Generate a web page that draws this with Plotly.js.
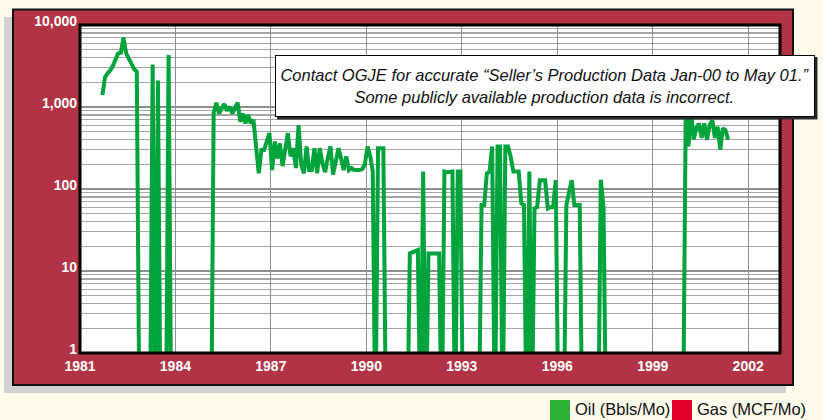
<!DOCTYPE html>
<html><head><meta charset="utf-8">
<script src="https://cdn.plot.ly/plotly-3.0.1.min.js"></script>
<style>html,body{margin:0;padding:0;background:#fefbec;overflow:hidden}#chart{width:823px;height:420px}</style>
</head><body><div id="chart"></div>
<script>
// ---- data (monthly oil production, Bbls/Mo; 0 = no production) ----
const months = [
 '1981-09','1981-10','1981-11','1981-12','1982-01','1982-02','1982-03','1982-04','1982-05','1982-06','1982-07','1982-08','1982-09','1982-10','1982-11',
 '1983-03','1983-04','1983-05','1983-06','1983-07','1983-09','1983-10','1983-11',
 '1985-02','1985-03','1985-04','1985-05','1985-06','1985-07','1985-08','1985-09','1985-10','1985-11','1985-12',
 '1986-01','1986-02','1986-03','1986-04','1986-05','1986-06','1986-07','1986-08','1986-09','1986-10','1986-11','1986-12',
 '1987-01','1987-02','1987-03','1987-04','1987-05','1987-06','1987-07','1987-08','1987-09','1987-10','1987-11','1987-12',
 '1988-01','1988-02','1988-03','1988-04','1988-05','1988-06','1988-07','1988-08','1988-09','1988-10','1988-11','1988-12',
 '1989-01','1989-02','1989-03','1989-04','1989-05','1989-06','1989-07','1989-08','1989-09','1989-10','1989-11','1989-12',
 '1990-01','1990-02','1990-03','1990-04','1990-05','1990-06','1990-07','1990-08',
 '1991-04','1991-05','1991-06','1991-07','1991-08','1991-09','1991-10','1991-11','1991-12',
 '1992-01','1992-02','1992-03','1992-04','1992-05','1992-06','1992-07','1992-08','1992-09','1992-10','1992-11','1992-12','1993-01',
 '1993-07','1993-08','1993-09','1993-10','1993-11','1993-12',
 '1994-01','1994-02','1994-03','1994-04','1994-05','1994-06','1994-07','1994-08','1994-09','1994-10','1994-11','1994-12',
 '1995-01','1995-02','1995-03','1995-04','1995-05','1995-06','1995-07','1995-08','1995-09','1995-10','1995-11','1995-12',
 '1996-01','1996-03','1996-04','1996-05','1996-06','1996-07','1996-08','1996-09','1996-10',
 '1997-04','1997-05','1997-06','1997-07',
 '1999-12','2000-01','2000-02','2000-03','2000-04','2000-05','2000-06','2000-07','2000-08','2000-09','2000-10','2000-11','2000-12',
 '2001-01','2001-02','2001-03','2001-04','2001-05'
];
const oil = [
 1400,2300,2600,2800,3200,4000,4500,4600,7000,4500,3950,3300,2900,2700,0,
 0,3300,0,2100,0,0,4300,0,
 0,850,1130,830,960,1090,900,1010,830,950,1130,
 660,830,630,800,630,700,330,155,300,300,380,480,
 170,380,235,360,190,300,480,250,315,180,600,200,
 155,330,170,170,315,155,315,205,160,240,330,150,
 230,315,240,170,250,170,180,170,170,170,175,200,
 330,250,165,0,315,315,315,0,
 0,16.4,17,17.5,18,0,163,0,16.4,
 16.4,16.4,16.4,16.4,0,163,160,163,163,0,163,163,0,
 0,64,64,155,163,330,
 0,330,330,0,330,330,250,163,163,163,67,64,
 0,163,0,58,60,128,128,128,58,60,60,128,
 0,0,64,90,128,64,64,64,0,
 0,130,60,0,
 0,900,330,900,400,550,630,420,630,400,600,690,420,
 575,300,550,520,400
];
const seriesNames = ['Oil (Bbls/Mo)', 'Gas (MCF/Mo)'];
const seriesColors = ['#00a33c', '#e0002a'];
const yTickVals = [1, 10, 100, 1000, 10000];
const yTickText = ['1', '10', '100', '1,000', '10,000'];
const xTickYears = ['1981','1984','1987','1990','1993','1996','1999','2002'];
const noteLines = ['Contact OGJE for accurate \u201cSeller\u2019s Production Data Jan-00 to May 01.\u201d',
                   'Some publicly available production data is incorrect.'];

// ---- layout helpers (pixel -> paper) ----
const W = 823, H = 420, ML = 80, MR = 43, MT = 25, MB = 67;
const PL = ML, PR = W - MR, PT = MT, PB = H - MB;
const fx = x => (x - PL) / (PR - PL);
const fy = y => (PB - y) / (PB - PT);

const SANS = '"Liberation Sans", Arial, Helvetica, sans-serif';
const RED = '#b23345';

// minor grid values 2..9 per decade
const minorVals = [];
for (let d = 1; d < 10000; d *= 10) for (let k = 2; k <= 9; k++) minorVals.push(k * d);

// monthly totals plotted at mid-month; zero production drawn below the log axis floor
const plotX = months.map(m => m + '-15');
const plotOil = oil.map(v => v > 0 ? v : 0.1);
const bold = s => '<b>' + s + '</b>';

const trace = {
  x: plotX, y: plotOil, type: 'scatter', mode: 'lines', name: seriesNames[0],
  line: {color: seriesColors[0], width: 4, shape: 'linear'},
  hoverinfo: 'x+y'
};

const shapes = [
  {type:'rect', xref:'paper', yref:'paper', layer:'below', x0:fx(4), x1:fx(786), y0:fy(17), y1:fy(393),
   fillcolor:'#d2d2d2', line:{width:0}},
  {type:'rect', xref:'paper', yref:'paper', layer:'below', x0:fx(13), x1:fx(793), y0:fy(9.5), y1:fy(385),
   fillcolor:RED, line:{color:'#111', width:2}},
  {type:'rect', xref:'paper', yref:'paper', layer:'below', x0:0, x1:1, y0:0, y1:1,
   fillcolor:'#ffffff', line:{width:0}},
  {type:'rect', xref:'paper', yref:'paper', layer:'above', x0:0, x1:1, y0:0, y1:1,
   fillcolor:'rgba(0,0,0,0)', line:{color:'#000', width:3}},
  // note box shadow
  {type:'rect', xref:'paper', yref:'paper', layer:'above', x0:fx(277), x1:fx(817.5), y0:fy(119.5), y1:fy(57),
   fillcolor:'#2a2a2a', line:{width:0}},
  // legend swatches
  {type:'rect', xref:'paper', yref:'paper', layer:'above', x0:fx(550), x1:fx(570), y0:fy(425), y1:fy(400),
   fillcolor:'#2eb135', line:{width:0}},
  {type:'rect', xref:'paper', yref:'paper', layer:'above', x0:fx(672), x1:fx(692), y0:fy(425), y1:fy(400),
   fillcolor:seriesColors[1], line:{width:0}}
];

const noteText = noteLines.join('<br>');
const noteFont = {family: SANS, size: 16.5, color: '#111', style: 'italic'};
const annotations = [
  {xref:'paper', yref:'paper', x:fx(545), y:fy(86), xanchor:'center', yanchor:'middle', showarrow:false,
   text:noteText, font:noteFont, width:536, height:58,
   bgcolor:'#ffffff', bordercolor:'#000', borderwidth:1, borderpad:1, align:'center'},
  {xref:'paper', yref:'paper', x:fx(573), y:fy(409), xanchor:'left', yanchor:'middle', showarrow:false,
   text:seriesNames[0], font:{family:SANS, size:16.5, color:'#111'}},
  {xref:'paper', yref:'paper', x:fx(695), y:fy(409), xanchor:'left', yanchor:'middle', showarrow:false,
   text:seriesNames[1], font:{family:SANS, size:16.5, color:'#111'}}
];

const tickFont = {family: SANS, size: 14, color: '#ffffff'};
const layout = {
  width: W, height: H,
  margin: {l: ML, r: MR, t: MT, b: MB, pad: 0},
  paper_bgcolor: '#fefbec',
  plot_bgcolor: '#ffffff',
  showlegend: false,
  xaxis: {
    type: 'date', range: ['1981-01-01', '2003-01-01'],
    tickmode: 'array', tickvals: xTickYears.map(y => y + '-01-01'), ticktext: xTickYears.map(bold),
    showgrid: true, gridcolor: '#8f8f8f', gridwidth: 1.2,
    zeroline: false, showline: false, ticks: '', ticklabelstandoff: 3,
    tickfont: tickFont
  },
  yaxis: {
    type: 'log', range: [0, 4],
    tickmode: 'array', tickvals: yTickVals, ticktext: yTickText.map(bold),
    showgrid: true, gridcolor: '#8f8f8f', gridwidth: 1.2,
    minor: {tickmode: 'array', tickvals: minorVals, showgrid: true, gridcolor: '#a6a6a6', gridwidth: 1.2, ticks: ''},
    zeroline: false, showline: false, ticks: '', ticklabelshift: -4, ticklabelstandoff: 2,
    tickfont: tickFont
  },
  shapes: shapes,
  annotations: annotations
};

Plotly.newPlot('chart', [trace], layout, {displayModeBar: false, staticPlot: true});
</script>
</body></html>
